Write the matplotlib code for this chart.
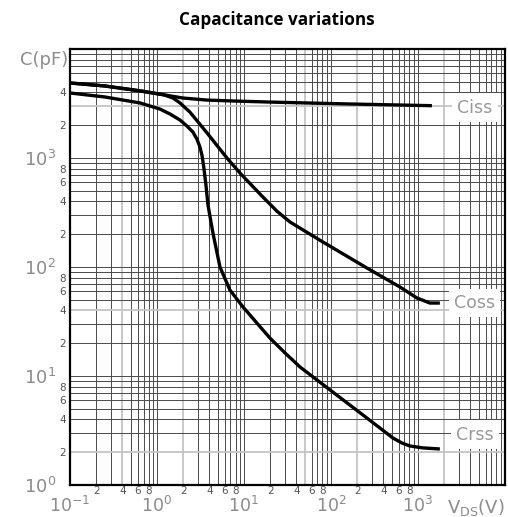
import matplotlib.pyplot as plt
import numpy as np
from matplotlib import ticker

plt.rcParams["font.family"] = "DejaVu Sans"

# curves (V in volts, C in pF)
ciss_v = [0.1, 0.252, 0.638, 1.99, 3.76, 8.0, 19.9, 165, 1450]
ciss_c = [4880, 4580, 4140, 3550, 3400, 3330, 3260, 3130, 3020]

coss_v = [0.1, 0.252, 0.638, 1.20, 1.53, 1.84, 2.39, 3.76, 6.38, 9.0, 16.5, 23.9, 33.8, 74.8, 105, 259,
          621, 975, 1373, 1790]
coss_c = [4880, 4580, 4120, 3800, 3550, 3200, 2640, 1700, 1000, 728, 439, 326, 259, 176, 150, 98,
          65.6, 52, 46.7, 46.7]

crss_v = [0.1, 0.252, 0.638, 1.08, 1.41, 1.84, 2.21, 2.59, 2.88, 3.12, 3.30, 3.47, 3.67, 3.86, 4.40,
          5.30, 6.90, 9.75, 14.1, 19.9, 29.6, 44.1, 105, 259, 516, 655, 809, 1140, 1790]
crss_c = [3950, 3630, 3200, 2815, 2535, 2230, 1967, 1730, 1490, 1260, 1050, 800, 550, 370, 205,
          100, 61.5, 43, 30.6, 22.3, 16.3, 12.1, 7.13, 4.12, 2.70, 2.43, 2.28, 2.19, 2.14]

curve_names = ["Ciss", "Coss", "Crss"]
label_pos = [(4500, 2900), (4500, 47), (4500, 2.9)]

x_major = [0.1, 1, 10, 100, 1000]
x_major_labels = [r"$10^{-1}$", r"$10^{0}$", r"$10^{1}$", r"$10^{2}$", r"$10^{3}$"]
y_major = [1, 10, 100, 1000]
y_major_labels = [r"$10^{0}$", r"$10^{1}$", r"$10^{2}$", r"$10^{3}$"]

x_minor = [m * 10.0 ** d for d in [-1, 0, 1, 2] for m in [2, 4, 6, 8]]
x_minor_labels = [str(m) for d in [-1, 0, 1, 2] for m in [2, 4, 6, 8]]
y_minor = [m * 10.0 ** d for d in [0, 1, 2] for m in [2, 4, 6, 8]] + [2000, 4000]
y_minor_labels = [str(m) for d in [0, 1, 2] for m in [2, 4, 6, 8]] + ["2", "4"]

dark = "#4a4a4a"
light = "#c4c4c4"
major_col = "#8c8c8c"
minor_col = "#555555"

# grid lines that are drawn pale in the original
light_v = {(-1, 4), (0, 2), (1, 5), (2, 2), (3, 2)}
light_h = {(1, 4), (3, 3), (0, 2)}

fig = plt.figure(figsize=(5.08, 5.17), dpi=100)
ax = fig.add_axes([0.1378, 0.0619, 0.856, 0.8433])
ax.set_xscale("log")
ax.set_yscale("log")
ax.set_xlim(0.1, 1e4)
ax.set_ylim(1, 1e4)

for d in range(-1, 4):
    for m in range(1, 10):
        if d == -1 and m == 1:
            continue
        lt = (d, m) in light_v
        ax.axvline(m * 10.0 ** d, color=light if lt else dark,
                   lw=1.3 if lt else 0.7, zorder=1)
for d in range(0, 4):
    for m in range(1, 10):
        if d == 0 and m == 1:
            continue
        lt = (d, m) in light_h
        ax.axhline(m * 10.0 ** d, color=light if lt else dark,
                   lw=1.3 if lt else 0.7, zorder=1)

for v, c in [(ciss_v, ciss_c), (coss_v, coss_c), (crss_v, crss_c)]:
    ax.plot(v, c, color="black", lw=2.4, solid_capstyle="butt",
            solid_joinstyle="round", zorder=3)

for name, (lx, ly) in zip(curve_names, label_pos):
    ax.text(lx, ly, name, ha="center", va="center", fontsize=12.5, color="#999999",
            bbox=dict(boxstyle="square,pad=0.3", facecolor="white", edgecolor="none"), zorder=4)

ax.xaxis.set_major_locator(ticker.FixedLocator(x_major))
ax.xaxis.set_major_formatter(ticker.FixedFormatter(x_major_labels))
ax.xaxis.set_minor_locator(ticker.FixedLocator(x_minor))
ax.xaxis.set_minor_formatter(ticker.FixedFormatter(x_minor_labels))
ax.yaxis.set_major_locator(ticker.FixedLocator(y_major))
ax.yaxis.set_major_formatter(ticker.FixedFormatter(y_major_labels))
ax.yaxis.set_minor_locator(ticker.FixedLocator(y_minor))
ax.yaxis.set_minor_formatter(ticker.FixedFormatter(y_minor_labels))

ax.tick_params(which="both", length=0)
ax.tick_params(axis="x", which="major", labelsize=12.5, labelcolor=major_col, pad=7.5)
ax.tick_params(axis="x", which="minor", labelsize=7.5, labelcolor=minor_col, pad=1)
ax.tick_params(axis="y", which="major", labelsize=13, labelcolor=major_col, pad=10)
ax.tick_params(axis="y", which="minor", labelsize=7.5, labelcolor=minor_col, pad=3)

for s in ax.spines.values():
    s.set_linewidth(1.6)
    s.set_color("black")
    s.set_zorder(5)

ax.text(-0.005, 0.995, "C(pF)", transform=ax.transAxes, ha="right", va="top",
        fontsize=13, color=major_col)
ax.text(1.0, -0.028, r"V$_{\rm DS}$(V)", transform=ax.transAxes, ha="right", va="top",
        fontsize=13, color=major_col)

fig.text(0.545, 0.962, "Capacitance variations", ha="center", va="center",
         fontsize=12.3, fontweight="bold", family="Open Sans")

fig.savefig("out.png", dpi=100)
